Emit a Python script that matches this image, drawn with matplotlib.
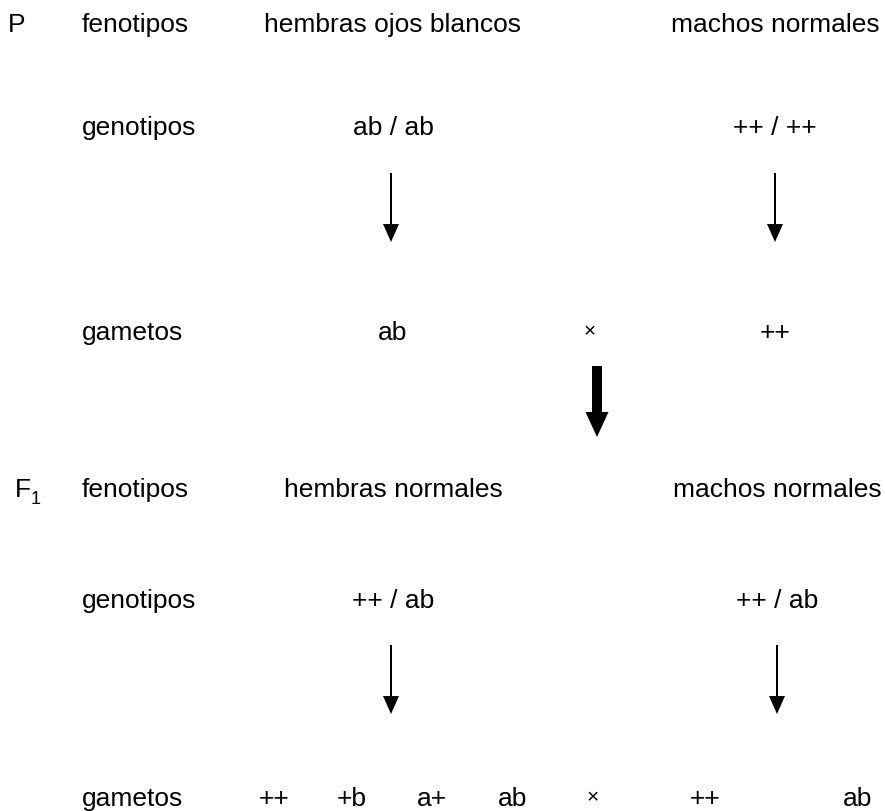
import matplotlib.pyplot as plt

plt.rcParams['font.family'] = ['Liberation Sans', 'DejaVu Sans']

# row labels (left column)
row_labels = ["fenotipos", "genotipos", "gametos"]

# P generation
p_female = ["hembras ojos blancos", "ab / ab", "ab"]
p_male = ["machos normales", "++ / ++", "++"]

# F1 generation
f1_female = ["hembras normales", "++ / ab"]
f1_male = ["machos normales", "++ / ab"]
f1_female_gametes = ["++", "+b", "a+", "ab"]
f1_male_gametes = ["++", "ab"]
cross = "×"

# layout (pixels, y from top, text baselines)
W, H = 885, 811
p_rows_y = [32, 135, 340]
f1_rows_y = [497, 608, 806]
col_fem, col_male = 393, 775
p_cross_x = 590
f1_cross_x = 593
fem_gam_x = [274, 352, 432, 513]
male_gam_x = [705, 858]
thin_arrows = [(391, 173, 242), (775, 173, 242), (391, 645, 714), (777, 645, 714)]

fig = plt.figure(figsize=(W / 100, H / 100), dpi=100)
ax = fig.add_axes([0, 0, 1, 1])
ax.set_xlim(0, W)
ax.set_ylim(H, 0)
ax.axis('off')

fs = 19


def txt(x, y, s, ha='center', size=fs):
    ax.text(x, y, s, fontsize=size, ha=ha, va='baseline', color='black')


# generation labels
txt(8, p_rows_y[0], "P", ha='left')
txt(15, f1_rows_y[0], "F", ha='left')
txt(31, f1_rows_y[0] + 7, "1", ha='left', size=13)

for ys in (p_rows_y, f1_rows_y):
    for lab, y in zip(row_labels, ys):
        txt(82, y, lab, ha='left')

# P block
for r, y in enumerate(p_rows_y):
    txt(col_fem, y, p_female[r])
    txt(col_male, y, p_male[r])
txt(p_cross_x, p_rows_y[2] - 3, cross, size=15)

# F1 block
for r in range(2):
    txt(col_fem, f1_rows_y[r], f1_female[r])
    txt(col_male + 2, f1_rows_y[r], f1_male[r])
for x, t in zip(fem_gam_x, f1_female_gametes):
    txt(x, f1_rows_y[2], t)
for x, t in zip(male_gam_x, f1_male_gametes):
    txt(x, f1_rows_y[2], t)
txt(f1_cross_x, f1_rows_y[2] - 3, cross, size=15)


def arrow(x, y1, y2, shaft_w, head_w, head_l):
    yb = y2 - head_l
    if shaft_w <= 3:
        ax.plot([x, x], [y1, yb + 1], color='black', lw=shaft_w * 0.72,
                solid_capstyle='butt')
    else:
        ax.fill([x - shaft_w / 2, x + shaft_w / 2, x + shaft_w / 2, x - shaft_w / 2],
                [y1, y1, yb + 1, yb + 1], color='black', lw=0)
    ax.fill([x - head_w / 2, x + head_w / 2, x], [yb, yb, y2], color='black', lw=0)


for x, y1, y2 in thin_arrows:
    arrow(x, y1, y2, 2, 16, 18)

# thick arrow between generations
arrow(597, 366, 437, 10, 23, 25)

fig.savefig('out.png', dpi=100)
